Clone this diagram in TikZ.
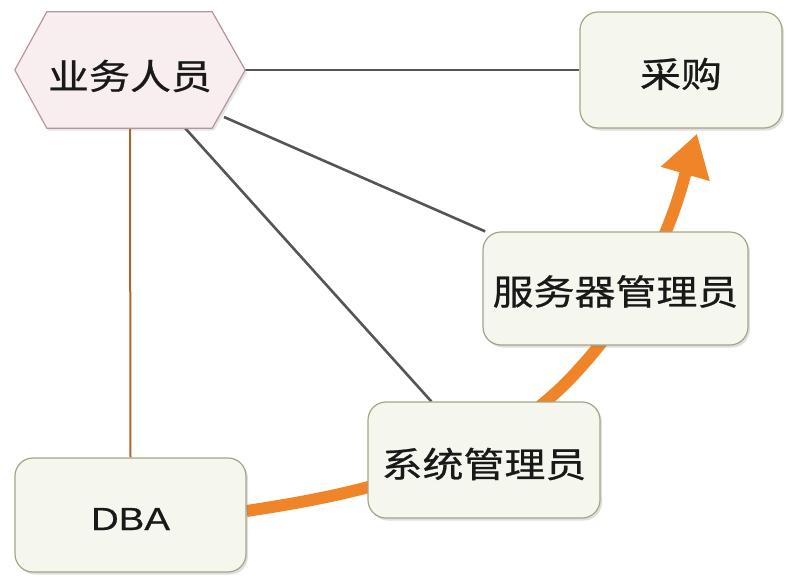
\documentclass[tikz,border=0pt]{standalone}
\usepackage{fontspec}
\usetikzlibrary{arrows.meta,shadows}
\newfontfamily\cjk[FakeStretch=1.17,FakeBold=0.7]{Noto Sans CJK SC}
\newfontfamily\latf[FakeStretch=1.2,FakeBold=0.5]{Liberation Sans}
\newcommand\lowertxt[2]{\raisebox{-#1}[\height][\depth]{#2}}
\definecolor{boxfill}{RGB}{245,247,238}
\definecolor{boxline}{RGB}{165,165,134}
\definecolor{hexfill}{RGB}{248,238,240}
\definecolor{hexline}{RGB}{180,150,155}
\definecolor{grayline}{RGB}{85,85,85}
\definecolor{brownline}{RGB}{180,100,40}
\definecolor{orangeline}{RGB}{240,132,40}
\definecolor{txt}{RGB}{25,25,25}
\pgfdeclarelayer{bg}
\pgfdeclarelayer{mid}
\pgfsetlayers{bg,mid,main}
\tikzset{
  rbox/.style={rectangle, rounded corners=18pt, fill=boxfill, draw=boxline, line width=1.2pt,
    drop shadow={shadow xshift=2pt, shadow yshift=-2.5pt, opacity=0.25},
    text=txt, font=\cjk\fontsize{35}{40}\selectfont, inner sep=0pt},
  hexbox/.style={rectangle, inner sep=0pt, text=txt, font=\cjk\fontsize{35}{40}\selectfont},
  hexshape/.style={fill=hexfill, draw=hexline, line width=1.2pt,
    drop shadow={shadow xshift=2pt, shadow yshift=-2.5pt, opacity=0.2}},
  plainlink/.style={draw=grayline, line width=2.6pt},
  brownlink/.style={draw=brownline, line width=2pt},
  flowlink/.style={draw=orangeline, line width=12pt,
    -{Triangle[length=42pt,width=48pt]}}
}
\begin{document}
\begin{tikzpicture}[x=1pt,y=-1pt]
\useasboundingbox (0,0) rectangle (808,576);
\node[hexbox, minimum width=230pt, minimum height=116pt] (hex) at (130,70) {\lowertxt{6pt}{业务人员}};
\node[rbox, minimum width=202pt, minimum height=116pt] (cg) at (681,70) {\lowertxt{4pt}{采购}};
\node[rbox, minimum width=265pt, minimum height=113pt] (srv) at (615.5,288.5) {\lowertxt{3pt}{服务器管理员}};
\node[rbox, minimum width=232pt, minimum height=116pt] (sys) at (484,460) {\lowertxt{4pt}{系统管理员}};
\node[rbox, minimum width=231pt, minimum height=114pt, font=\latf\fontsize{32}{38}\selectfont] (dba) at (130.5,515) {\lowertxt{4pt}{DBA}};
\coordinate (hexA) at (224,117);
\coordinate (hexB) at (185,128);
\begin{pgfonlayer}{mid}
\path[hexshape] (hex.west) -- ([xshift=32pt]hex.north west) -- ([xshift=-33pt]hex.north east)
  -- (hex.east) -- ([xshift=-33pt]hex.south east) -- ([xshift=32pt]hex.south west) -- cycle;
\end{pgfonlayer}
\begin{pgfonlayer}{bg}
\draw[plainlink] (hex.east) -- (cg);
\draw[plainlink] (hexA) -- (srv);
\draw[plainlink] (hexB) -- (sys);
\draw[brownlink] (hex.south) -- (dba.north);
\draw[flowlink] ([yshift=4pt]dba.east) .. controls (350,495) and (490,470) .. (580,368)
  .. controls (660,280) and (682,185) .. ([yshift=-5pt]cg.south -| 697,0);
\end{pgfonlayer}
\end{tikzpicture}
\end{document}
